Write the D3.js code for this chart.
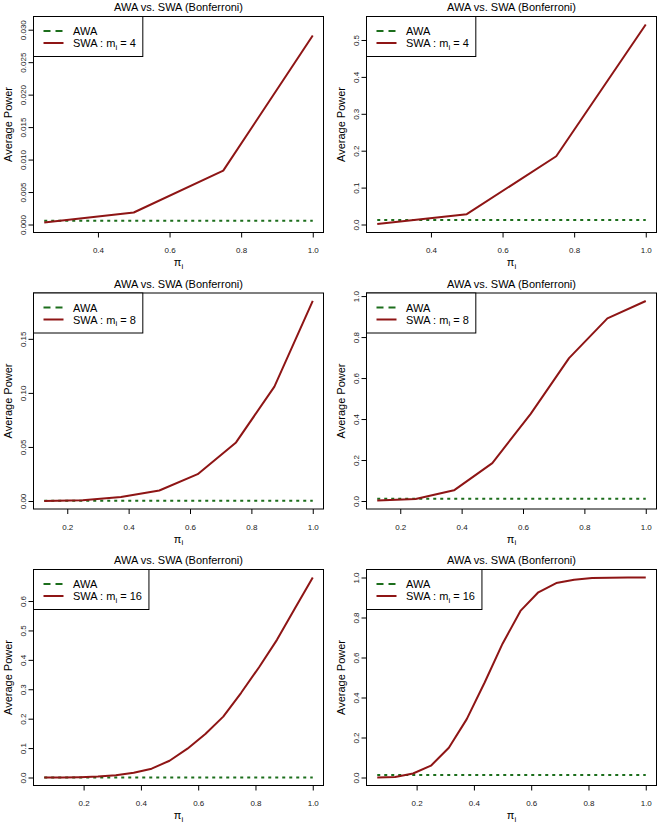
<!DOCTYPE html>
<html>
<head>
<meta charset="utf-8">
<script src="https://cdn.jsdelivr.net/npm/d3@7"></script>
<style>
  html, body { margin: 0; padding: 0; background: #fff; }
  svg { display: block; font-family: "Liberation Sans", Arial, Helvetica, sans-serif; }
</style>
</head>
<body>
<svg id="chart" width="662" height="824"></svg>
<script>
// ---------------- data ----------------
const xs4  = [0.25, 0.5, 0.75, 1.0];
const xs8  = [0.125, 0.25, 0.375, 0.5, 0.625, 0.75, 0.875, 1.0];
const xs16 = [0.0625, 0.125, 0.1875, 0.25, 0.3125, 0.375, 0.4375, 0.5,
              0.5625, 0.625, 0.6875, 0.75, 0.8125, 0.875, 0.9375, 1.0];

const swa1 = [0.0003, 0.00185, 0.0083, 0.0291];
const swa2 = [0.0015, 0.028, 0.185, 0.542];
const swa3 = [0.0001, 0.0006, 0.0036, 0.0097, 0.0248, 0.0542, 0.1058, 0.1852];
const swa4 = [0.002, 0.010, 0.052, 0.185, 0.425, 0.697, 0.891, 0.976];
const swa5 = [0.0000, 0.0002, 0.001, 0.003, 0.008, 0.016, 0.030, 0.057,
              0.098, 0.148, 0.207, 0.288, 0.375, 0.468, 0.575, 0.680];
const swa6 = [0.000, 0.003, 0.020, 0.059, 0.149, 0.292, 0.475, 0.669,
              0.833, 0.926, 0.972, 0.989, 0.997, 0.999, 1.000, 1.000];

const awaLevels = [0.00056, 0.012, 0.0003, 0.011, 0.0003, 0.012];
const mValues   = [4, 4, 8, 8, 16, 16];

const yLimits = [[0, 0.0308], [0, 0.542], [0, 0.185], [0, 0.976], [0, 0.68], [0, 1.0]];

const yTicks1 = [0, 0.005, 0.010, 0.015, 0.020, 0.025, 0.030];
const yLabels1 = ["0.000", "0.005", "0.010", "0.015", "0.020", "0.025", "0.030"];
const yTicks2 = [0, 0.1, 0.2, 0.3, 0.4, 0.5];
const yLabels2 = ["0.0", "0.1", "0.2", "0.3", "0.4", "0.5"];
const yTicks3 = [0, 0.05, 0.10, 0.15];
const yLabels3 = ["0.00", "0.05", "0.10", "0.15"];
const yTicks4 = [0, 0.2, 0.4, 0.6, 0.8, 1.0];
const yLabels4 = ["0.0", "0.2", "0.4", "0.6", "0.8", "1.0"];
const yTicks5 = [0, 0.1, 0.2, 0.3, 0.4, 0.5, 0.6];
const yLabels5 = ["0.0", "0.1", "0.2", "0.3", "0.4", "0.5", "0.6"];
const yTicks6 = [0, 0.2, 0.4, 0.6, 0.8, 1.0];
const yLabels6 = ["0.0", "0.2", "0.4", "0.6", "0.8", "1.0"];

const xTicksA = [0.4, 0.6, 0.8, 1.0];
const xLabelsA = ["0.4", "0.6", "0.8", "1.0"];
const xTicksB = [0.2, 0.4, 0.6, 0.8, 1.0];
const xLabelsB = ["0.2", "0.4", "0.6", "0.8", "1.0"];

const titleText = "AWA vs. SWA (Bonferroni)";
const yAxisTitle = "Average Power";
const legendAWA = "AWA";

// ---------------- panel table ----------------
const panels = [
  { xs: xs4,  swa: swa1, yt: yTicks1, yl: yLabels1, xt: xTicksA, xl: xLabelsA },
  { xs: xs4,  swa: swa2, yt: yTicks2, yl: yLabels2, xt: xTicksA, xl: xLabelsA },
  { xs: xs8,  swa: swa3, yt: yTicks3, yl: yLabels3, xt: xTicksB, xl: xLabelsB },
  { xs: xs8,  swa: swa4, yt: yTicks4, yl: yLabels4, xt: xTicksB, xl: xLabelsB },
  { xs: xs16, swa: swa5, yt: yTicks5, yl: yLabels5, xt: xTicksB, xl: xLabelsB },
  { xs: xs16, swa: swa6, yt: yTicks6, yl: yLabels6, xt: xTicksB, xl: xLabelsB }
].map((p, i) => ({ ...p, awa: awaLevels[i], m: mValues[i], ylim: yLimits[i] }));

// ---------------- layout ----------------
const colLeft = [33.5, 366.5];
const boxW = 290;
const rowTop0 = 16.5;
const rowPitch = 276.5;
const boxH = 216;
const GREEN = "#1c6e1c";
const RED = "#8e1515";

const svg = d3.select("#chart");

panels.forEach((p, i) => {
  const col = i % 2, row = Math.floor(i / 2);
  const bx = colLeft[col], by = rowTop0 + row * rowPitch;
  const g = svg.append("g");

  const xe = d3.extent(p.xs), xr = xe[1] - xe[0];
  const x = d3.scaleLinear().domain([xe[0] - 0.04 * xr, xe[1] + 0.04 * xr]).range([bx, bx + boxW]);
  const yr = p.ylim[1] - p.ylim[0];
  const y = d3.scaleLinear().domain([p.ylim[0] - 0.04 * yr, p.ylim[1] + 0.04 * yr]).range([by + boxH, by]);

  // AWA line (constant level)
  const awaPts = p.xs.map(v => [v, p.awa]);
  const line = d3.line().x(d => x(d[0])).y(d => y(d[1]));
  g.append("path").attr("d", line(awaPts))
    .attr("fill", "none").attr("stroke", GREEN).attr("stroke-width", 2)
    .attr("stroke-dasharray", "3,4");

  // SWA line
  const swaPts = p.xs.map((v, k) => [v, p.swa[k]]);
  g.append("path").attr("d", line(swaPts))
    .attr("fill", "none").attr("stroke", RED).attr("stroke-width", 2)
    .attr("stroke-linejoin", "round");

  // box
  g.append("rect").attr("x", bx).attr("y", by).attr("width", boxW).attr("height", boxH)
    .attr("fill", "none").attr("stroke", "#000").attr("stroke-width", 1);

  // y axis
  const ya = g.append("g").attr("transform", `translate(${bx},0)`)
    .call(d3.axisLeft(y).tickValues(p.yt).tickFormat((d, k) => p.yl[k]).tickSize(5).tickSizeOuter(0));
  ya.select(".domain").remove();
  ya.selectAll(".tick line").attr("stroke", "#000");
  ya.selectAll(".tick text")
    .attr("transform", "rotate(-90)").attr("x", 0).attr("y", -8).attr("dy", 0)
    .attr("text-anchor", "middle").attr("font-size", 8).attr("fill", "#222")
    .attr("font-family", "Liberation Sans, Arial, sans-serif");

  // x axis
  const xa = g.append("g").attr("transform", `translate(0,${by + boxH})`)
    .call(d3.axisBottom(x).tickValues(p.xt).tickFormat((d, k) => p.xl[k]).tickSize(5).tickPadding(10).tickSizeOuter(0));
  xa.select(".domain").remove();
  xa.selectAll(".tick line").attr("stroke", "#000");
  xa.selectAll(".tick text").attr("font-size", 8).attr("fill", "#222")
    .attr("font-family", "Liberation Sans, Arial, sans-serif");

  // title
  g.append("text").attr("x", bx + boxW / 2).attr("y", by - 5.2)
    .attr("text-anchor", "middle").attr("font-size", 11).attr("fill", "#000").text(titleText);

  // y title
  g.append("text").attr("transform", `translate(${bx - 22},${by + boxH / 2}) rotate(-90)`)
    .attr("text-anchor", "middle").attr("font-size", 11).attr("fill", "#000").text(yAxisTitle);

  // x title: pi_i
  const xt = g.append("text").attr("x", bx + boxW / 2).attr("y", by + boxH + 33.5)
    .attr("text-anchor", "middle").attr("font-size", 11).attr("fill", "#000");
  xt.append("tspan").text("π");
  xt.append("tspan").attr("font-size", 8).attr("dy", 2.5).text("i");

  // legend
  const lg = g.append("g");
  const lrect = lg.append("rect").attr("x", bx).attr("y", by).attr("height", 40)
    .attr("fill", "#fff").attr("stroke", "#000").attr("stroke-width", 1);
  const r1 = by + 14.5, r2 = by + 26.5;
  lg.append("line").attr("x1", bx + 10).attr("x2", bx + 30).attr("y1", r1).attr("y2", r1)
    .attr("stroke", GREEN).attr("stroke-width", 2).attr("stroke-dasharray", "7,5");
  lg.append("line").attr("x1", bx + 10).attr("x2", bx + 30).attr("y1", r2).attr("y2", r2)
    .attr("stroke", RED).attr("stroke-width", 2);
  const t1 = lg.append("text").attr("x", bx + 39.5).attr("y", r1 + 4).attr("font-size", 11).text(legendAWA);
  const t2 = lg.append("text").attr("x", bx + 39.5).attr("y", r2 + 4).attr("font-size", 11);
  t2.append("tspan").text("SWA : m");
  t2.append("tspan").attr("font-size", 8).attr("dy", 2.5).text("i");
  t2.append("tspan").attr("dy", -2.5).text(" = " + p.m);
  const tw = Math.max(t1.node().getComputedTextLength(), t2.node().getComputedTextLength());
  lrect.attr("width", 39.5 + tw + 7);
});
</script>
</body>
</html>
